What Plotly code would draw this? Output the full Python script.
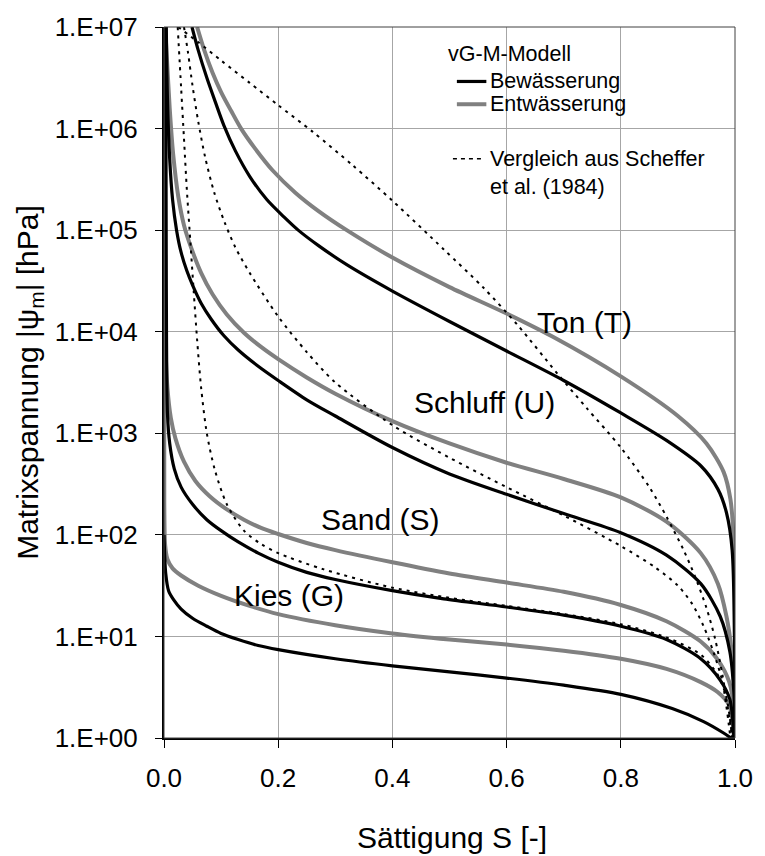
import plotly.graph_objects as go

# ---------------- data ----------------
# Saturation S [-] and matric potential |psi_m| [hPa]
kies_bew_S = [0.0, 0.003, 0.008, 0.017, 0.03, 0.05, 0.075, 0.1, 0.13, 0.165, 0.2, 0.3, 0.4, 0.5, 0.6, 0.7, 0.8, 0.89, 0.945, 0.98, 0.993]
kies_bew_psi = [100, 41.7, 28.2, 22.9, 18.6, 15.1, 12.6, 10.7, 9.33, 8.13, 7.41, 6.03, 5.13, 4.47, 3.89, 3.31, 2.69, 1.95, 1.45, 1.12, 1.0]

kies_ent_S = [0.0, 0.0005, 0.002, 0.006, 0.015, 0.03, 0.06, 0.1, 0.15, 0.2, 0.3, 0.4, 0.5, 0.6, 0.7, 0.8, 0.88, 0.94, 0.97, 0.99, 0.998]
kies_ent_psi = [1e7, 200, 79.4, 57.5, 46.8, 39.8, 31.6, 25.1, 20.0, 16.6, 12.9, 10.7, 9.33, 8.32, 7.24, 6.03, 4.79, 3.55, 2.82, 2.09, 1.0]

sand_bew_S = [0.003, 0.004, 0.006, 0.01, 0.018, 0.03, 0.05, 0.075, 0.1, 0.13, 0.165, 0.2, 0.25, 0.3, 0.4, 0.49, 0.6, 0.7, 0.8, 0.88, 0.94, 0.974, 0.991, 0.998]
sand_bew_psi = [1e7, 3.16e4, 1585, 794, 447, 295, 200, 141, 110, 85.1, 66.1, 53.7, 42.7, 36.3, 28.2, 23.4, 19.5, 16.2, 12.6, 9.33, 6.03, 3.72, 2.40, 1.0]

sand_ent_S = [0.0, 0.002, 0.006, 0.012, 0.02, 0.035, 0.055, 0.08, 0.11, 0.14, 0.17, 0.2, 0.25, 0.3, 0.4, 0.5, 0.6, 0.7, 0.8, 0.88, 0.94, 0.97, 0.99, 0.998, 1.0]
sand_ent_psi = [1e7, 1e4, 2818, 1413, 891, 525, 339, 240, 178, 141, 117, 102, 83.2, 70.8, 53.7, 41.7, 33.9, 27.5, 20.4, 14.1, 8.91, 5.89, 3.55, 2.0, 1.0]

schluff_bew_S = [0.004, 0.006, 0.01, 0.015, 0.022, 0.03, 0.04, 0.05, 0.065, 0.083, 0.105, 0.13, 0.165, 0.2, 0.25, 0.3, 0.4, 0.5, 0.6, 0.7, 0.8, 0.88, 0.94, 0.974, 0.991, 0.998, 1.0]
schluff_bew_psi = [1e7, 2.0e6, 5.01e5, 2.0e5, 1.0e5, 6.03e4, 3.98e4, 2.88e4, 1.91e4, 1.32e4, 9120, 6607, 4571, 3311, 2138, 1479, 724, 398, 251, 162, 105, 63.1, 33.1, 15.8, 7.08, 2.82, 1.0]

schluff_ent_S = [0.002, 0.005, 0.01, 0.016, 0.025, 0.035, 0.048, 0.065, 0.085, 0.11, 0.14, 0.17, 0.2, 0.25, 0.3, 0.4, 0.5, 0.6, 0.7, 0.8, 0.88, 0.94, 0.97, 0.985, 0.994, 0.999, 1.0]
schluff_ent_psi = [1e7, 5.01e6, 1.58e6, 5.62e5, 2.14e5, 1.12e5, 6.61e4, 3.80e4, 2.34e4, 1.48e4, 9772, 7079, 5370, 3548, 2455, 1318, 794, 513, 355, 234, 135, 66.1, 33.1, 15.8, 7.24, 2.82, 1.0]

ton_bew_S = [0.049, 0.06, 0.075, 0.09, 0.105, 0.125, 0.15, 0.18, 0.21, 0.235, 0.27, 0.32, 0.4, 0.5, 0.6, 0.7, 0.8, 0.88, 0.94, 0.97, 0.985, 0.995, 1.0]
ton_bew_psi = [1e7, 5.89e6, 3.16e6, 1.82e6, 1.07e6, 6.03e5, 3.39e5, 2.0e5, 1.35e5, 1.0e5, 7.08e4, 4.57e4, 2.51e4, 1.26e4, 6457, 3311, 1585, 851, 479, 282, 166, 70.8, 1.0]

ton_ent_S = [0.058, 0.07, 0.085, 0.1, 0.118, 0.135, 0.16, 0.19, 0.23, 0.27, 0.32, 0.4, 0.5, 0.6, 0.681, 0.8, 0.9, 0.95, 0.98, 0.992, 0.998, 1.0]
ton_ent_psi = [1e7, 6.03e6, 3.55e6, 2.29e6, 1.48e6, 1.0e6, 6.31e5, 3.89e5, 2.34e5, 1.55e5, 1.0e5, 5.37e4, 2.75e4, 1.51e4, 8913, 3631, 1479, 794, 417, 224, 79.4, 1.0]

# comparison curves (Scheffer et al. 1984)
ref_sand_S = [0.024, 0.03, 0.035, 0.04, 0.046, 0.052, 0.058, 0.065, 0.075, 0.089, 0.11, 0.14, 0.17, 0.2, 0.28, 0.4, 0.5, 0.6, 0.7, 0.8, 0.88, 0.94, 0.97, 0.985, 0.995]
ref_sand_psi = [1e7, 2.51e6, 7.94e5, 2.51e5, 7.94e4, 2.51e4, 8318, 2818, 1000, 437, 200, 110, 81.3, 66.1, 45.7, 30.2, 24.0, 20.0, 16.6, 13.2, 9.77, 6.61, 4.17, 2.51, 1.0]

ref_schluff_S = [0.035, 0.042, 0.05, 0.06, 0.072, 0.088, 0.106, 0.125, 0.15, 0.2, 0.25, 0.3, 0.4, 0.5, 0.6, 0.7, 0.8, 0.86, 0.9, 0.925, 0.945, 0.962, 0.978, 0.992]
ref_schluff_psi = [1e7, 5.62e6, 2.63e6, 1.17e6, 5.25e5, 2.34e5, 1.20e5, 6.76e4, 3.80e4, 1.41e4, 6310, 3162, 1202, 575, 295, 155, 77.6, 47.9, 31.6, 20.9, 12.6, 7.08, 3.55, 1.0]

ref_ton_S = [0.025, 0.06, 0.1, 0.15, 0.2, 0.26, 0.33, 0.4, 0.49, 0.56, 0.62, 0.69, 0.74, 0.8, 0.85, 0.88, 0.91, 0.93, 0.95, 0.965, 0.978, 0.99, 0.995]
ref_ton_psi = [1e7, 7.08e6, 4.68e6, 2.82e6, 1.70e6, 9.33e5, 4.37e5, 1.95e5, 6.46e4, 2.69e4, 1.15e4, 3802, 1778, 724, 295, 151, 70.8, 38.9, 19.1, 9.55, 4.17, 1.58, 1.0]

soil_labels = ["Ton (T)", "Schluff (U)", "Sand (S)", "Kies (G)"]
label_S = [0.737, 0.561, 0.378, 0.219]
label_logpsi = [4.09, 3.30, 2.15, 1.40]

y_tickvals = [1, 10, 100, 1e3, 1e4, 1e5, 1e6, 1e7]
y_ticktext = ["1.E+00", "1.E+01", "1.E+02", "1.E+03", "1.E+04", "1.E+05", "1.E+06", "1.E+07"]
x_tickvals = [0.0, 0.2, 0.4, 0.6, 0.8, 1.0]

legend_title = "vG-M-Modell"
legend_names = ["Bewässerung", "Entwässerung", "Vergleich aus Scheffer<br>et al. (1984)"]

# ---------------- figure ----------------
FONT = "Liberation Sans, Arial, sans-serif"
GRAY = "#808080"
BLACK = "#000000"

fig = go.Figure()

ent = [(kies_ent_S, kies_ent_psi), (sand_ent_S, sand_ent_psi),
       (schluff_ent_S, schluff_ent_psi), (ton_ent_S, ton_ent_psi)]
bew = [(kies_bew_S, kies_bew_psi), (sand_bew_S, sand_bew_psi),
       (schluff_bew_S, schluff_bew_psi), (ton_bew_S, ton_bew_psi)]
refs = [(ref_sand_S, ref_sand_psi), (ref_schluff_S, ref_schluff_psi), (ref_ton_S, ref_ton_psi)]

for xs, ys in ent:
    fig.add_trace(go.Scatter(x=xs, y=ys, mode="lines",
                             line=dict(color=GRAY, width=4, shape="spline", smoothing=0.8),
                             showlegend=False, hoverinfo="skip"))
for xs, ys in bew:
    fig.add_trace(go.Scatter(x=xs, y=ys, mode="lines",
                             line=dict(color=BLACK, width=3.2, shape="spline", smoothing=0.8),
                             showlegend=False, hoverinfo="skip"))
for xs, ys in refs:
    fig.add_trace(go.Scatter(x=xs, y=ys, mode="lines",
                             line=dict(color=BLACK, width=2, dash="3px,5px", shape="spline", smoothing=0.8),
                             showlegend=False, hoverinfo="skip"))

# soil labels
for txt, sx, ly in zip(soil_labels, label_S, label_logpsi):
    fig.add_annotation(x=sx, y=ly, xref="x", yref="y", text=txt, showarrow=False,
                       font=dict(family=FONT, size=30, color="black"),
                       xanchor="center", yanchor="middle")

# ---- legend (drawn manually, Excel style) ----
L = 164.0; R = 745.0; T = 20.0; B = 738.0
def px(xp):
    return (xp - L) / (R - L)
def py(yp):
    return (B - yp) / (B - T)

fig.add_shape(type="rect", xref="paper", yref="paper",
              x0=px(447), x1=px(738), y0=py(198), y1=py(32),
              fillcolor="white", line=dict(width=0), layer="between")
fig.add_annotation(x=px(451), y=py(47), xref="paper", yref="paper", text=legend_title,
                   showarrow=False, xanchor="left", yanchor="middle",
                   font=dict(family=FONT, size=21.5, color="black"))
fig.add_shape(type="line", xref="paper", yref="paper", x0=px(462), x1=px(492), y0=py(75), y1=py(75),
              line=dict(color=BLACK, width=3.2))
fig.add_shape(type="line", xref="paper", yref="paper", x0=px(462), x1=px(492), y0=py(98), y1=py(98),
              line=dict(color=GRAY, width=4))
fig.add_shape(type="line", xref="paper", yref="paper", x0=px(458), x1=px(490), y0=py(153), y1=py(153),
              line=dict(color=BLACK, width=1.5, dash="4px,4px"))
for name, yc in zip(legend_names, [75, 98, 167.5]):
    fig.add_annotation(x=px(494), y=py(yc), xref="paper", yref="paper", text=name,
                       showarrow=False, xanchor="left", yanchor="middle", align="left",
                       font=dict(family=FONT, size=21.5, color="black"))

# outer frame (top / right)
fig.add_shape(type="rect", xref="paper", yref="paper", x0=0, x1=1, y0=0, y1=1,
              line=dict(color="#404040", width=1), layer="above")

# axis titles
fig.add_annotation(x=px(457), y=py(838), xref="paper", yref="paper", text="Sättigung S [-]",
                   showarrow=False, xanchor="center", yanchor="middle",
                   font=dict(family=FONT, size=30, color="black"))
fig.add_annotation(x=px(27), y=py(379), xref="paper", yref="paper",
                   text="Matrixspannung |ψ<sub>m</sub>| [hPa]", textangle=-90,
                   showarrow=False, xanchor="center", yanchor="middle",
                   font=dict(family=FONT, size=30, color="black"))

fig.update_xaxes(range=[0, 1], tickvals=x_tickvals, tickformat=".1f",
                 showgrid=True, gridcolor="#a6a6a6", gridwidth=1,
                 showline=True, linecolor="black", linewidth=2,
                 ticks="outside", ticklen=8, tickcolor="black", tickwidth=1,
                 tickfont=dict(family=FONT, size=26, color="black"),
                 ticklabelstandoff=8, zeroline=False)
fig.update_yaxes(type="log", range=[0, 7], tickvals=y_tickvals, ticktext=y_ticktext,
                 showgrid=True, gridcolor="#a6a6a6", gridwidth=1,
                 showline=True, linecolor="black", linewidth=2,
                 ticks="outside", ticklen=7, tickcolor="black", tickwidth=1,
                 tickfont=dict(family=FONT, size=26, color="black"),
                 ticklabelstandoff=12, zeroline=False)

fig.update_layout(width=765, height=856,
                  margin=dict(l=164, r=20, t=20, b=118),
                  paper_bgcolor="white", plot_bgcolor="white",
                  showlegend=False,
                  font=dict(family=FONT, color="black"))

fig.write_html("out.html")
